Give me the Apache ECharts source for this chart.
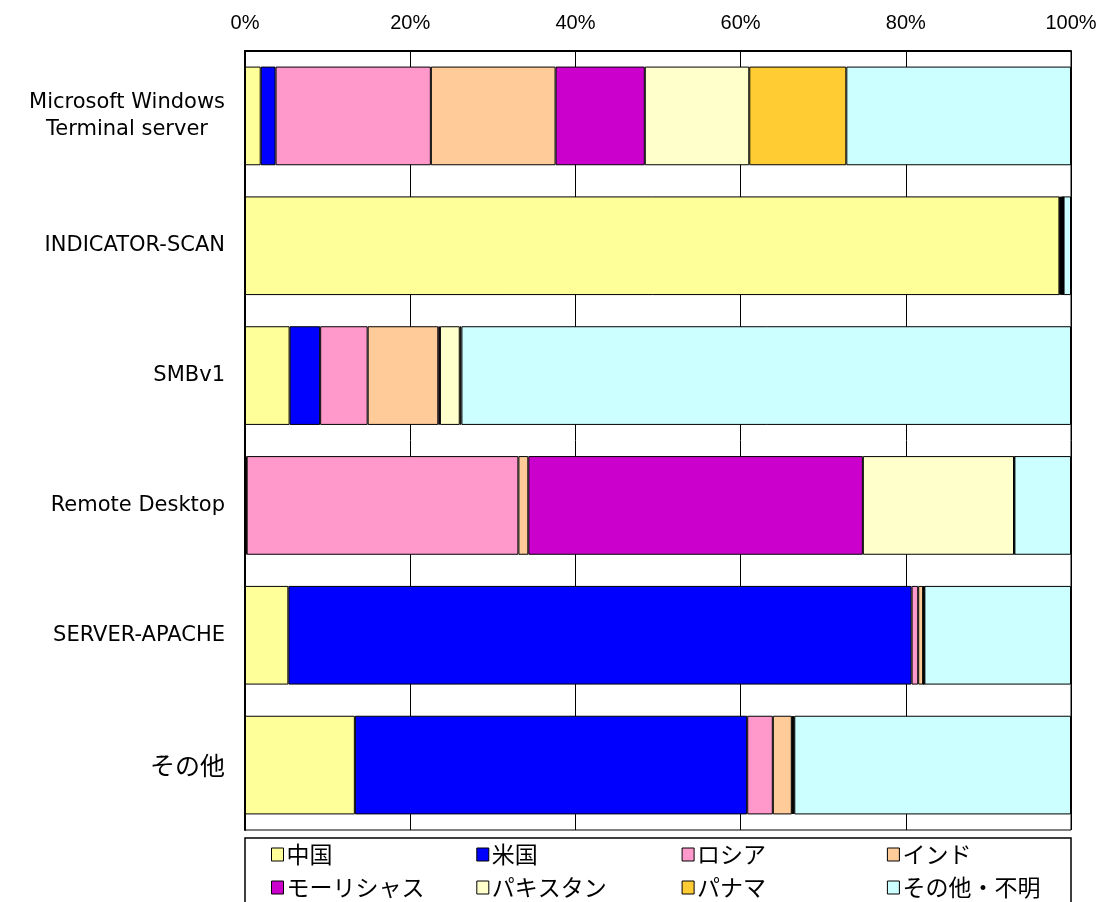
<!DOCTYPE html>
<html>
<head>
<meta charset="UTF-8">
<title>攻撃元の国別割合</title>
<script type="text/javascript" src="https://cdn.jsdelivr.net/npm/echarts@6/dist/echarts.min.js"></script>
<style>
    html, body { margin: 0; padding: 0; background: #fff; }
</style>
</head>
<body>

    <div id="main" style="width: 1107px; height: 902px;"></div>
    <script type="text/javascript">
        // 攻撃の種類（上から順）
        var categories = ['Microsoft Windows\nTerminal server', 'INDICATOR-SCAN', 'SMBv1', 'Remote Desktop', 'SERVER-APACHE', 'その他'];
        var tickLabels = ['0%', '20%', '40%', '60%', '80%', '100%'];

        // 国別の割合（%）
        var china     = [1.9, 98.6, 5.4, 0.1, 5.25, 13.3];
        var usa       = [1.8, 0.1, 3.7, 0.1, 75.45, 47.5];
        var russia    = [18.8, 0.1, 5.75, 32.9, 0.8, 3.1];
        var india     = [15.1, 0.1, 8.55, 1.2, 0.6, 2.3];
        var mauritius = [10.8, 0.1, 0.2, 40.5, 0.05, 0.1];
        var pakistan  = [12.65, 0.05, 2.4, 18.3, 0.05, 0.1];
        var panama    = [11.75, 0.05, 0.2, 0.05, 0.05, 0.1];
        var others    = [27.2, 0.9, 73.8, 6.85, 17.75, 33.5];

        var names  = ['中国', '米国', 'ロシア', 'インド', 'モーリシャス', 'パキスタン', 'パナマ', 'その他・不明'];
        var colors = ['#FFFF99', '#0000FF', '#FF99CC', '#FFCC99', '#CC00CC', '#FFFFCC', '#FFCC33', '#CCFFFF'];
        var values = [china, usa, russia, india, mauritius, pakistan, panama, others];

        var series = names.map(function (n, i) {
            return {
                name: n,
                type: 'bar',
                stack: 'total',
                barCategoryGap: '24%',
                data: values[i],
                itemStyle: { color: colors[i], borderColor: '#000', borderWidth: 1 },
                emphasis: { disabled: true }
            };
        });

        // 凡例は4列×2行、1項目ずつ置く
        var legends = names.map(function (n, i) {
            return {
                data: [n],
                left: 271 + (i % 4) * 205.3,
                top: i < 4 ? 843 : 876,
                padding: 0,
                itemWidth: 12,
                itemHeight: 13,
                itemGap: 5,
                icon: 'rect',
                selectedMode: false,
                itemStyle: { borderColor: '#000', borderWidth: 1 },
                textStyle: { fontSize: 23, color: '#000', fontFamily: 'Noto Sans CJK JP', padding: [0, 0, 0, -2] }
            };
        });

        var myChart = echarts.init(document.getElementById('main'));

        var option = {
            animation: false,
            backgroundColor: '#fff',
            grid: { left: 245, right: 36, top: 51, bottom: 72, show: true, borderColor: '#000', borderWidth: 1 },
            legend: legends,
            graphic: [{
                type: 'rect',
                shape: { x: 245, y: 838, width: 826, height: 80 },
                style: { fill: 'none', stroke: '#000', lineWidth: 1.5 },
                z: 10
            }],
            xAxis: {
                type: 'value',
                position: 'top',
                min: 0,
                max: 100,
                interval: 20,
                axisLine: { show: true, lineStyle: { color: '#000', width: 2 } },
                axisTick: { show: false },
                axisLabel: {
                    margin: 18,
                    fontSize: 20,
                    color: '#000',
                    fontFamily: 'Liberation Sans Narrow, Liberation Sans',
                    formatter: function (v) { return tickLabels[v / 20]; }
                },
                splitLine: { show: true, lineStyle: { color: '#000', width: 1 } }
            },
            yAxis: {
                type: 'category',
                inverse: true,
                data: categories,
                axisLine: { show: true, lineStyle: { color: '#000', width: 2 } },
                axisTick: { show: false },
                axisLabel: {
                    margin: 20,
                    color: '#000',
                    fontSize: 21,
                    fontFamily: 'DejaVu Sans',
                    lineHeight: 27,
                    formatter: function (v) {
                        if (v === 'その他') return '{jp|' + v + '}';
                        return v.split('\n').map(function (s) { return '{c|' + s + '}'; }).join('\n');
                    },
                    rich: {
                        c: { fontSize: 21, fontFamily: 'DejaVu Sans', color: '#000', align: 'center', lineHeight: 27 },
                        jp: { fontSize: 25, fontFamily: 'Noto Sans CJK JP', color: '#000' }
                    }
                }
            },
            series: series
        };

        myChart.setOption(option);
    </script>
</body>
</html>
